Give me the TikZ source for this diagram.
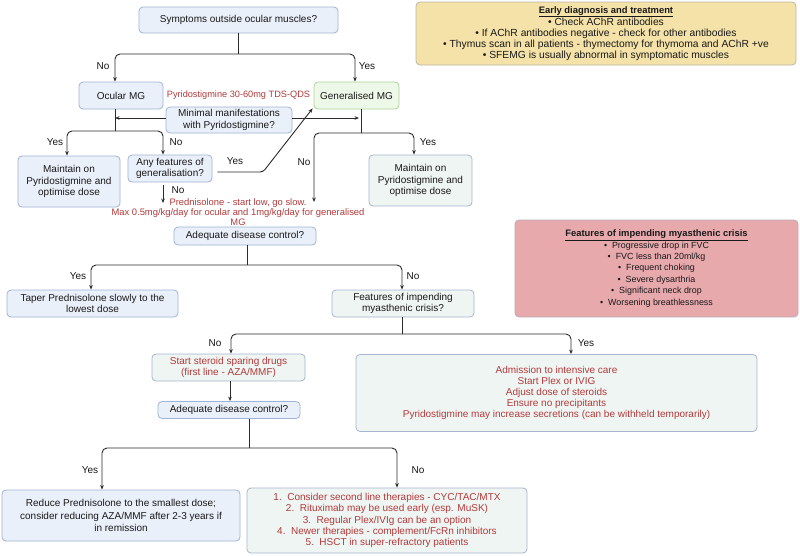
\documentclass[tikz,border=0pt]{standalone}
\usepackage{fontspec}
\setmainfont{Liberation Sans}
\usetikzlibrary{arrows.meta}
\definecolor{bfill}{HTML}{EAF0FA}
\definecolor{bdraw}{HTML}{9FB3D6}
\definecolor{gfill}{HTML}{EEF8E8}
\definecolor{gdraw}{HTML}{A9D49A}
\definecolor{tfill}{HTML}{EFF5F3}
\definecolor{tdraw}{HTML}{A7B6CF}
\definecolor{yfill}{HTML}{F4E2A8}
\definecolor{ydraw}{HTML}{BCB6A6}
\definecolor{pfill}{HTML}{E8A9AD}
\definecolor{pdraw}{HTML}{B9ABBA}
\definecolor{redtxt}{HTML}{B23A3A}
\definecolor{linec}{HTML}{2B2B2B}
\begin{document}
\begin{tikzpicture}[x=1pt,y=-1pt,
  every node/.style={font=\fontsize{10}{11.2}\selectfont, inner sep=1pt, text=black!90},
  basebox/.style={rounded corners=4pt, line width=0.8pt, align=center},
  bluebox/.style={basebox, draw=bdraw, fill=bfill},
  greenbox/.style={basebox, draw=gdraw, fill=gfill},
  tealbox/.style={basebox, draw=tdraw, fill=tfill},
  yellowbox/.style={basebox, draw=ydraw, fill=yfill},
  pinkbox/.style={basebox, draw=pdraw, fill=pfill},
  redtext/.style={text=redtxt},
  conn/.style={draw=linec, line width=0.9pt, rounded corners=5pt},
  arr/.style={conn, -{Stealth[length=4.5pt,width=3.6pt]}},
  lbl/.style={text=black!90}]
\fill[white] (0,0) rectangle (800,555);
\useasboundingbox (0,0) rectangle (800,555);

% boxes
\node[bluebox, minimum width=199pt, minimum height=26pt] (sym) at (238.5,20) {Symptoms outside ocular muscles?};
\node[bluebox, minimum width=84pt, minimum height=27pt] (ocular) at (121,95.5) {Ocular MG};
\node[redtext, font=\fontsize{9.2}{11}\selectfont] (pyr) at (238.5,95) {Pyridostigmine 30-60mg TDS-QDS};
\node[greenbox, minimum width=85pt, minimum height=27pt] (gen) at (356.5,95.5) {Generalised MG};
\node[bluebox, minimum width=126pt, minimum height=26pt, font=\fontsize{10}{12}\selectfont] (minimal) at (229,120) {Minimal manifestations\\with Pyridostigmine?};
\node[bluebox, minimum width=102pt, minimum height=51pt] (maintL) at (69,181.5) {Maintain on\\Pyridostigmine and\\optimise dose};
\node[bluebox, minimum width=84pt, minimum height=27pt] (anyf) at (170,168.5) {Any features of\\generalisation?};
\node[tealbox, minimum width=103pt, minimum height=51pt] (maintR) at (420.5,180.5) {Maintain on\\Pyridostigmine and\\optimise dose};
\node[redtext, align=center, font=\fontsize{9.4}{10}\selectfont] (pred) at (238,212) {Prednisolone - start low, go slow.\\Max 0.5mg/kg/day for ocular and 1mg/kg/day for generalised\\MG};
\node[bluebox, minimum width=142pt, minimum height=18pt] (adeq1) at (245,236) {Adequate disease control?};
\node[bluebox, minimum width=171pt, minimum height=27pt] (taper) at (92.5,303.5) {Taper Prednisolone slowly to the\\lowest dose};
\node[tealbox, minimum width=142pt, minimum height=27pt] (feat) at (403,303.5) {Features of impending\\myasthenic crisis?};
\node[tealbox, redtext, minimum width=153pt, minimum height=27pt] (steroid) at (228.5,367.5) {Start steroid sparing drugs\\(first line - AZA/MMF)};
\node[bluebox, minimum width=142pt, minimum height=17pt] (adeq2) at (229,410) {Adequate disease control?};
\node[tealbox, redtext, minimum width=401pt, minimum height=77pt] (treat) at (556.5,393) {Admission to intensive care\\Start Plex or IVIG\\Adjust dose of steroids\\Ensure no precipitants\\Pyridostigmine may increase secretions (can be withheld temporarily)};
\node[bluebox, minimum width=238pt, minimum height=51pt, font=\fontsize{10}{12.2}\selectfont] (reduce) at (121,515.5) {Reduce Prednisolone to the smallest dose;\\consider reducing AZA/MMF after 2-3 years if\\in remission};
\node[tealbox, redtext, minimum width=280pt, minimum height=65pt] (second) at (387,520.5) {1.\ \ Consider second line therapies - CYC/TAC/MTX\\2.\ \ Rituximab may be used early (esp. MuSK)\\3.\ \ Regular Plex/IVIg can be an option\\4.\ \ Newer therapies - complement/FcRn inhibitors\\5.\ \ HSCT in super-refractory patients};
\node[yellowbox, minimum width=380pt, minimum height=63pt, font=\fontsize{10.3}{11}\selectfont] (early) at (606,33.5) {{\fontsize{9.4}{11}\selectfont\textbf{\underline{Early diagnosis and treatment}}}\\\textbullet\ Check AChR antibodies\\\textbullet\ If AChR antibodies negative - check for other antibodies\\\textbullet\ Thymus scan in all patients - thymectomy for thymoma and AChR +ve\\\textbullet\ SFEMG is usually abnormal in symptomatic muscles\rule[-1.5pt]{0pt}{1pt}};
\node[pinkbox, minimum width=283pt, minimum height=97pt, font=\fontsize{8.9}{11.4}\selectfont] (crisisf) at (656.5,268.5) {{\fontsize{9.4}{11.4}\selectfont\textbf{\underline{Features of impending myasthenic crisis}}}\\\textbullet\ \ Progressive drop in FVC\\\textbullet\ \ FVC less than 20ml/kg\\\textbullet\ \ Frequent choking\\\textbullet\ \ Severe dysarthria\\\textbullet\ \ Significant neck drop\\\textbullet\ \ Worsening breathlessness};

% connectors: top split
\coordinate (j1) at (sym.south |- 0,54);
\draw[conn] (sym.south) -- (j1);
\draw[arr] (j1) -| ([xshift=-6pt]ocular.north);
\draw[arr] (j1) -| ([xshift=-1.5pt]gen.north);
\node[lbl] (lno1) at (103,66) {No};
\node[lbl] (lyes1) at (367,66) {Yes};

% ocular branch
\coordinate (oc) at ([xshift=-6pt]ocular.south);
\coordinate (j2) at (oc |- 0,131);
\draw[conn] (oc) -- (j2);
\draw[arr] (j2) -| ([xshift=-2pt]maintL.north);
\draw[arr] (j2) -| ([xshift=-7pt]anyf.north);
\node[lbl] (lyes2) at (55,142) {Yes};
\node[lbl] (lno2) at (176,142) {No};
\draw[arr] ([yshift=2pt]minimal.west) -- ([yshift=2pt]minimal.west -| oc);

% generalised branch
\coordinate (gs) at ([xshift=4.5pt]gen.south);
\coordinate (j3) at (gs |- 0,133);
\draw[conn] (gs) -- (j3);
\draw[arr] ([yshift=2pt]minimal.east) -- ([yshift=2pt,xshift=-2pt]minimal.east -| gs);
\coordinate (pr) at (314,202);
\draw[arr] (j3) -| (pr);
\draw[arr] (j3) -| ([xshift=-6.5pt]maintR.north);
\node[lbl] (lno3) at (304,162) {No};
\node[lbl] (lyes3) at (428,142) {Yes};

% any features
\coordinate (bend) at (263,172);
\draw[arr, rounded corners=3pt] ([yshift=-3.5pt,xshift=5pt]anyf.east) -- (bend) -- ([xshift=-1pt,yshift=1pt]gen.south west);
\node[lbl] (lyes4) at (235,161) {Yes};
\coordinate (pl) at ([xshift=-7pt]anyf.south |- 0,203);
\draw[arr] ([xshift=-7pt,yshift=-3pt]anyf.south) -- (pl);
\node[lbl] (lno4) at (178,190) {No};

% adequate 1
\coordinate (a1s) at ([xshift=2pt]adeq1.south);
\coordinate (j4) at (a1s |- 0,265);
\draw[conn] (a1s) -- (j4);
\draw[arr] (j4) -| ([xshift=-1.5pt]taper.north);
\draw[arr] (j4) -| ([xshift=-1pt]feat.north);
\node[lbl] (lyes5) at (78,276) {Yes};
\node[lbl] (lno5) at (413,276) {No};

% features of crisis
\coordinate (fs) at ([xshift=-1pt]feat.south);
\coordinate (j5) at (fs |- 0,334);
\draw[conn] (fs) -- (j5);
\draw[arr] (j5) -| ([xshift=2.5pt]steroid.north);
\draw[arr] (j5) -| ([xshift=14.5pt]treat.north);
\node[lbl] (lno6) at (215,343) {No};
\node[lbl] (lyes6) at (586,343) {Yes};

% steroid to adequate 2
\draw[arr] ([xshift=1.5pt]steroid.south) -- ([xshift=1pt]adeq2.north);

% adequate 2
\coordinate (a2s) at ([xshift=20pt]adeq2.south);
\coordinate (j6) at (a2s |- 0,448);
\draw[conn] (a2s) -- (j6);
\draw[arr] (j6) -| ([xshift=-19pt]reduce.north);
\draw[arr] (j6) -| ([xshift=10pt]second.north);
\node[lbl] (lyes7) at (90,470) {Yes};
\node[lbl] (lno7) at (418,470) {No};
\end{tikzpicture}
\end{document}
